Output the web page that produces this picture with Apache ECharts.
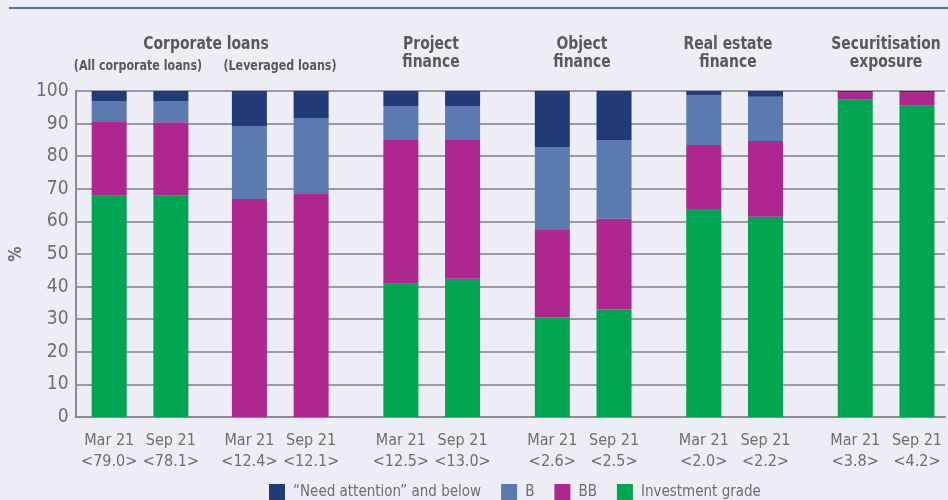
<!DOCTYPE html>
<html>
<head>
<meta charset="utf-8">
<script src="https://cdn.jsdelivr.net/npm/echarts@6/dist/echarts.min.js"></script>
<style>
html,body{margin:0;padding:0;background:#ecedf5;}
#chart{width:948px;height:500px;}
</style>
</head>
<body>
<div id="chart"></div>
<script>
// ---- data ----
const periods = ["Mar 21","Sep 21","Mar 21","Sep 21","Mar 21","Sep 21","Mar 21","Sep 21","Mar 21","Sep 21","Mar 21","Sep 21"];
const amounts = ["<79.0>","<78.1>","<12.4>","<12.1>","<12.5>","<13.0>","<2.6>","<2.5>","<2.0>","<2.2>","<3.8>","<4.2>"];
const investmentGrade = [67.9, 68.0, 0, 0, 40.9, 42.4, 30.6, 33.0, 63.8, 61.4, 97.5, 95.5];
const bbShare        = [22.6, 22.4, 66.9, 68.4, 44.1, 42.6, 26.8, 27.8, 19.6, 23.3, 2.2, 4.2];
const bShare         = [6.4, 6.5, 22.4, 23.3, 10.4, 10.4, 25.4, 24.2, 15.4, 13.5, 0, 0];
const needAttention  = [3.1, 3.1, 10.7, 8.3, 4.6, 4.6, 17.2, 15.0, 1.2, 1.8, 0.3, 0.3];
const yTicks = [0,10,20,30,40,50,60,70,80,90,100];
const seriesNames = ["\u201cNeed attention\u201d and below","B","BB","Investment grade"];

// ---- layout of slots on the category axis (spacing only) ----
const lead = 6, trail = 5, pairGap = 11, groupGap = 16, corpGap = 14;
const gapsAfter = [pairGap, corpGap, pairGap, groupGap, pairGap, groupGap, pairGap, groupGap, pairGap, groupGap, pairGap];
const slotIndex = [];
let pos = lead;
for (let i = 0; i < periods.length; i++) {
  slotIndex.push(pos);
  if (i < gapsAfter.length) pos += gapsAfter[i];
}
const nCats = pos + trail + 1;
const cats = new Array(nCats).fill("");
periods.forEach((p, i) => { cats[slotIndex[i]] = p + "\n" + amounts[i]; });
function expand(arr) {
  const out = new Array(nCats).fill(null);
  arr.forEach((v, i) => { out[slotIndex[i]] = v; });
  return out;
}

const font = "'Liberation Sans Narrow','DejaVu Sans Condensed','Arial Narrow',sans-serif";
const grey = "#6d6e71";
const colors = {na:"#223a78", b:"#5b7ab0", bb:"#ad278e", ig:"#00a551"};

function bar(name, data, color) {
  return {
    name: name, type: "bar", stack: "s", barWidth: 35,
    data: expand(data), itemStyle: {color: color}, emphasis: {disabled: true}
  };
}

const chart = echarts.init(document.getElementById("chart"), null, {renderer: "canvas"});
const headerStyle = {fill: "#58595b", fontFamily: font, fontWeight: "bold", fontSize: 18, textAlign: "center", lineHeight: 18};
const subStyle = {fill: "#58595b", fontFamily: font, fontWeight: "bold", fontSize: 14, textAlign: "center"};
function hdr(text, x, y, style, sx) {
  return {type: "text", x: x, y: y, scaleX: sx, style: Object.assign({text: text}, style)};
}
chart.setOption({
  backgroundColor: "#ecedf5",
  animation: false,
  grid: {left: 74, right: 1, top: 91, bottom: 83, containLabel: false},
  legend: {
    left: 264, top: 479, itemWidth: 16, itemHeight: 16, itemGap: 20, icon: "rect",
    data: seriesNames,
    textStyle: {color: grey, fontFamily: font, fontSize: 15, padding: [0,0,0,3]},
    selectedMode: false
  },
  xAxis: {
    type: "category", data: cats, boundaryGap: false,
    axisLine: {lineStyle: {color: "#8a8a90", width: 2}},
    axisTick: {show: false},
    axisLabel: {interval: 0, color: grey, fontFamily: font, fontSize: 16, lineHeight: 21, margin: 13}
  },
  yAxis: {
    type: "value", min: yTicks[0], max: yTicks[yTicks.length-1], interval: 10,
    name: "%", nameLocation: "middle", nameGap: 50, nameRotate: 90,
    nameTextStyle: {color: grey, fontFamily: font, fontSize: 17, fontWeight: "bold"},
    axisLine: {show: true, lineStyle: {color: "#8a8a90", width: 2}},
    axisTick: {show: false},
    splitLine: {lineStyle: {color: "#9a9aa2", width: 2}},
    axisLabel: {color: grey, fontFamily: font, fontSize: 19, margin: 7}
  },
  graphic: [
    {type: "line", shape: {x1: 9, y1: 8, x2: 948, y2: 8}, style: {stroke: "#5a6fa8", lineWidth: 2}},
    hdr("Corporate loans", 206, 35, headerStyle, 0.86),
    hdr("(All corporate loans)", 138, 59, subStyle, 0.88),
    hdr("(Leveraged loans)", 280, 59, subStyle, 0.88),
    hdr("Project\nfinance", 431, 35, headerStyle, 0.86),
    hdr("Object\nfinance", 582, 35, headerStyle, 0.86),
    hdr("Real estate\nfinance", 728, 35, headerStyle, 0.86),
    hdr("Securitisation\nexposure", 886, 35, headerStyle, 0.86)
  ],
  series: [
    bar(seriesNames[3], investmentGrade, colors.ig),
    bar(seriesNames[2], bbShare, colors.bb),
    bar(seriesNames[1], bShare, colors.b),
    bar(seriesNames[0], needAttention, colors.na)
  ]
});
</script>
</body>
</html>
